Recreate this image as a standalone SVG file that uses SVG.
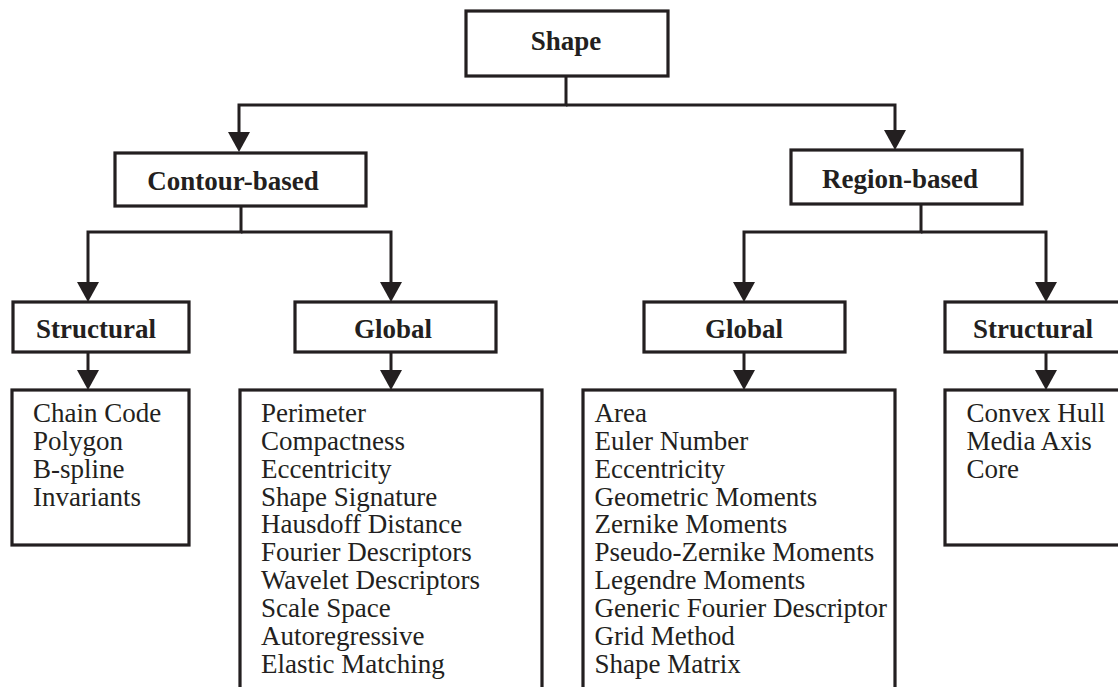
<svg xmlns="http://www.w3.org/2000/svg" width="1118" height="687" viewBox="0 0 1118 687">
<defs>
<marker id="arr" viewBox="0 0 20 22" refX="10" refY="11" markerWidth="20" markerHeight="22" markerUnits="userSpaceOnUse" orient="auto">
<path d="M0,0 L20,11 L0,22 Z" fill="#231f20"/>
</marker>
<style>
.box{fill:#fff;stroke:#231f20;stroke-width:3.2}
.hd{font-family:"Liberation Serif","Times New Roman",serif;font-weight:bold;font-size:27px;fill:#231f20;text-anchor:middle}
.it{font-family:"Liberation Serif","Times New Roman",serif;font-size:27px;fill:#231f20}
.cn{fill:none;stroke:#231f20;stroke-width:3;marker-end:url(#arr)}
</style>
</defs>
<rect width="1118" height="687" fill="#fff"/>
<g id="connectors">
<path class="cn" d="M566,76 V105 H239 V142"/>
<path class="cn" d="M566,105 H895 V140"/>
<path class="cn" d="M241,206 V232 H88 V292"/>
<path class="cn" d="M241,232 H391 V292"/>
<path class="cn" d="M921,204 V232 H744 V292"/>
<path class="cn" d="M921,232 H1046 V292"/>
<path class="cn" d="M88,352 V380"/>
<path class="cn" d="M391,352 V380"/>
<path class="cn" d="M744,352 V380"/>
<path class="cn" d="M1046,352 V380"/>
</g>
<g id="shape"><rect class="box" x="466" y="11" width="202" height="65"/><text class="hd" x="566" y="50">Shape</text></g>
<g id="contour"><rect class="box" x="115" y="153" width="251" height="53"/><text class="hd" x="233" y="190">Contour-based</text></g>
<g id="region"><rect class="box" x="791" y="150" width="231" height="54"/><text class="hd" x="900" y="188">Region-based</text></g>
<g id="c-structural"><rect class="box" x="13" y="302" width="176" height="50"/><text class="hd" x="96" y="338">Structural</text></g>
<g id="c-global"><rect class="box" x="295" y="302" width="201" height="50"/><text class="hd" x="393" y="338">Global</text></g>
<g id="r-global"><rect class="box" x="644" y="302" width="201" height="50"/><text class="hd" x="744" y="338">Global</text></g>
<g id="r-structural"><rect class="box" x="945" y="302" width="180" height="50"/><text class="hd" x="1033" y="338">Structural</text></g>
<g id="c-structural-list"><rect class="box" x="12" y="390" width="177" height="155"/>
<text class="it" x="33" y="422">Chain Code</text>
<text class="it" x="33" y="449.85">Polygon</text>
<text class="it" x="33" y="477.7">B-spline</text>
<text class="it" x="33" y="505.55">Invariants</text>
</g>
<g id="c-global-list"><rect class="box" x="240" y="390" width="302" height="320"/>
<text class="it" x="261" y="422">Perimeter</text>
<text class="it" x="261" y="449.85">Compactness</text>
<text class="it" x="261" y="477.7">Eccentricity</text>
<text class="it" x="261" y="505.55">Shape Signature</text>
<text class="it" x="261" y="533.4">Hausdoff Distance</text>
<text class="it" x="261" y="561.25">Fourier Descriptors</text>
<text class="it" x="261" y="589.1">Wavelet Descriptors</text>
<text class="it" x="261" y="616.95">Scale Space</text>
<text class="it" x="261" y="644.8">Autoregressive</text>
<text class="it" x="261" y="672.65">Elastic Matching</text>
</g>
<g id="r-global-list"><rect class="box" x="583" y="390" width="312" height="320"/>
<text class="it" x="594.5" y="422">Area</text>
<text class="it" x="594.5" y="449.85">Euler Number</text>
<text class="it" x="594.5" y="477.7">Eccentricity</text>
<text class="it" x="594.5" y="505.55">Geometric Moments</text>
<text class="it" x="594.5" y="533.4">Zernike Moments</text>
<text class="it" x="594.5" y="561.25">Pseudo-Zernike Moments</text>
<text class="it" x="594.5" y="589.1">Legendre Moments</text>
<text class="it" x="594.5" y="616.95">Generic Fourier Descriptor</text>
<text class="it" x="594.5" y="644.8">Grid Method</text>
<text class="it" x="594.5" y="672.65">Shape Matrix</text>
</g>
<g id="r-structural-list"><rect class="box" x="945" y="390" width="180" height="155"/>
<text class="it" x="966.5" y="422">Convex Hull</text>
<text class="it" x="966.5" y="449.85">Media Axis</text>
<text class="it" x="966.5" y="477.7">Core</text>
</g>
</svg>
